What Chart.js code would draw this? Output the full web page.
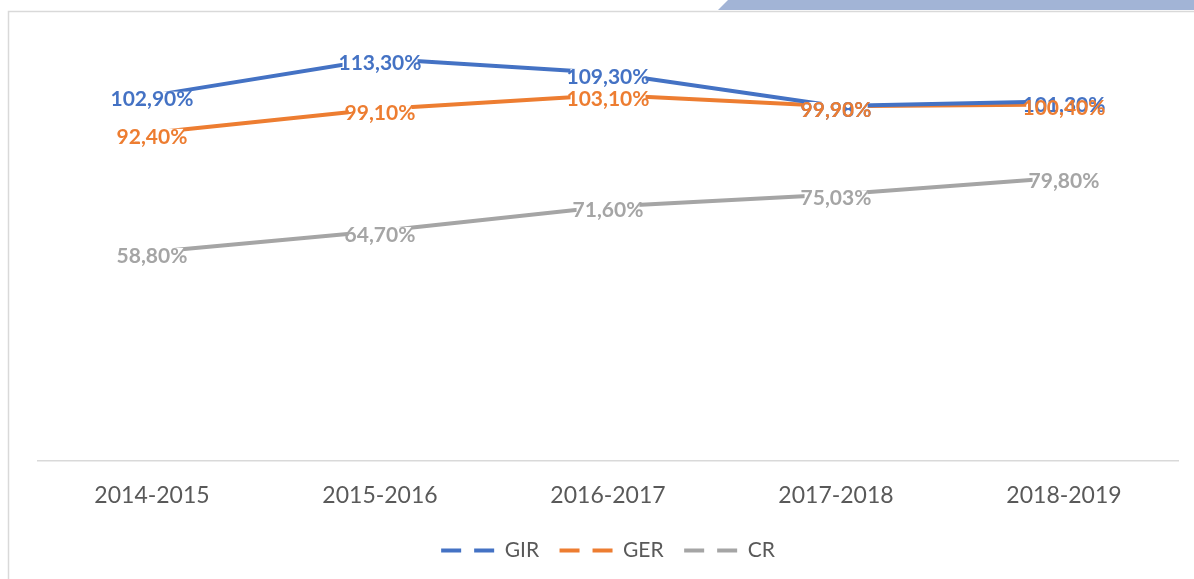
<!DOCTYPE html>
<html>
<head>
<meta charset="utf-8">
<script src="https://cdn.jsdelivr.net/npm/chart.js@4/dist/chart.umd.min.js"></script>
<style>
  html, body { margin: 0; padding: 0; background: #ffffff; }
  #wrap { position: relative; width: 1194px; height: 579px; }
</style>
</head>
<body>
<div id="wrap"><canvas id="rates"></canvas></div>
<script>
// school years on the x axis
const years = ['2014-2015', '2015-2016', '2016-2017', '2017-2018', '2018-2019'];
// rates in percent
const gir = [102.90, 113.30, 109.30, 99.98, 101.30];
const ger = [92.40, 99.10, 103.10, 99.90, 100.40];
const cr = [58.80, 64.70, 71.60, 75.03, 79.80];

const blue = '#4472C4';
const orange = '#ED7D31';
const grey = '#A5A5A5';

function pct(v) {
  return v.toFixed(2).replace('.', ',') + '%';
}

// frame of the chart box and the blue strip at the top right
const frame = {
  id: 'frame',
  beforeDraw(chart) {
    const ctx = chart.ctx;
    ctx.save();
    ctx.fillStyle = '#A2B4D6';
    ctx.beginPath();
    ctx.moveTo(728, 0);
    ctx.lineTo(1194, 0);
    ctx.lineTo(1194, 10);
    ctx.lineTo(718, 10);
    ctx.closePath();
    ctx.fill();
    ctx.strokeStyle = '#D9D9D9';
    ctx.lineWidth = 1.5;
    ctx.strokeRect(8.5, 11.5, 1200, 600);
    ctx.restore();
  }
};

// value labels sitting on the points; white boxes first, then all the texts
const pointLabels = {
  id: 'pointLabels',
  afterDatasetsDraw(chart) {
    const ctx = chart.ctx;
    ctx.save();
    ctx.font = 'bold 21px Lato';
    ctx.textAlign = 'center';
    ctx.textBaseline = 'middle';
    const items = [];
    chart.data.datasets.forEach((ds, i) => {
      chart.getDatasetMeta(i).data.forEach((pt, j) => {
        items.push({ x: pt.x, y: pt.y + 4, text: pct(ds.data[j]), color: ds.borderColor });
      });
    });
    ctx.fillStyle = '#ffffff';
    items.forEach(it => {
      const w = ctx.measureText(it.text).width - 8;
      ctx.fillRect(it.x - w / 2, it.y - 8, w, 16);
    });
    items.forEach(it => {
      ctx.fillStyle = it.color;
      ctx.fillText(it.text, it.x, it.y);
    });
    ctx.restore();
  }
};

new Chart(document.getElementById('rates'), {
  type: 'line',
  data: {
    labels: years,
    datasets: [
      { label: 'GIR', data: gir, borderColor: blue, backgroundColor: blue },
      { label: 'GER', data: ger, borderColor: orange, backgroundColor: orange },
      { label: 'CR', data: cr, borderColor: grey, backgroundColor: grey }
    ]
  },
  options: {
    responsive: true,
    maintainAspectRatio: false,
    animation: false,
    layout: { padding: { left: 38, right: 16, top: 35, bottom: 8 } },
    elements: {
      line: { borderWidth: 4, tension: 0 },
      point: { radius: 0, hoverRadius: 0 }
    },
    scales: {
      x: {
        offset: true,
        grid: { display: false, drawTicks: false },
        border: { display: true, color: '#D9D9D9', width: 1.5 },
        ticks: { color: '#595959', font: { family: 'Lato', size: 23 }, padding: 21 }
      },
      y: {
        display: false,
        min: 0,
        max: 120
      }
    },
    plugins: {
      legend: {
        position: 'bottom',
        labels: {
          color: '#595959',
          font: { family: 'Lato', size: 21 },
          usePointStyle: true,
          pointStyleWidth: 53,
          padding: 10,
          generateLabels(chart) {
            const n = chart.data.datasets.length;
            return chart.data.datasets.map((ds, i) => ({
              // an en space after the first items keeps the wider gap between entries
              text: i < n - 1 ? ds.label + '\u2002' : ds.label,
              fillStyle: ds.borderColor,
              strokeStyle: ds.borderColor,
              fontColor: '#595959',
              lineWidth: 4,
              lineDash: [20, 13],
              pointStyle: 'line',
              datasetIndex: i
            }));
          }
        }
      },
      tooltip: { enabled: false }
    }
  },
  plugins: [frame, pointLabels]
});
</script>
</body>
</html>
